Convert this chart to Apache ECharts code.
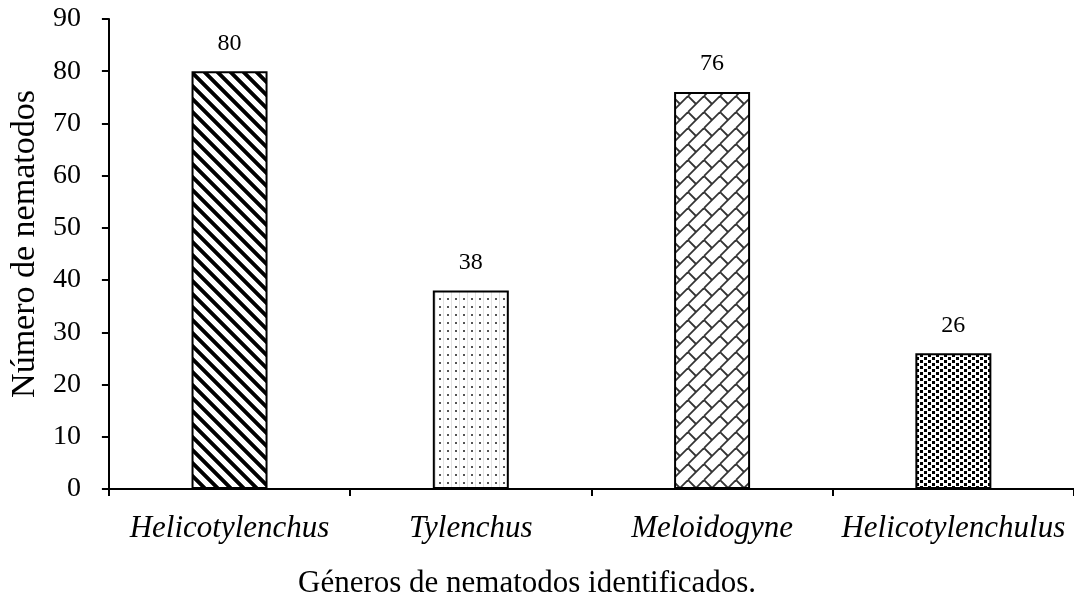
<!DOCTYPE html>
<html>
<head>
<meta charset="utf-8">
<script src="https://cdn.jsdelivr.net/npm/echarts@6/dist/echarts.min.js"></script>
<style>
  html, body { margin: 0; padding: 0; background: #fff; }
  #chart { width: 1074px; height: 604px; }
</style>
</head>
<body>
<div id="chart"></div>
<script>
const categories = ['Helicotylenchus', 'Tylenchus', 'Meloidogyne', 'Helicotylenchulus'];
const counts = [80, 38, 76, 26];
const yTicks = [0, 10, 20, 30, 40, 50, 60, 70, 80, 90];

const serif = '"Liberation Serif", "Times New Roman", serif';

// pattern tiles drawn on small canvases
const makeTile = (w, h, draw) => {
  const c = document.createElement('canvas');
  c.width = w;
  c.height = h;
  const ctx = c.getContext('2d');
  ctx.fillStyle = '#fff';
  ctx.fillRect(0, 0, w, h);
  draw(ctx, w, h);
  return { image: c, repeat: 'repeat' };
};

// diagonal "\" stripes, set pixel by pixel so the tile is seamless
const stripes = makeTile(26, 26, (ctx, w, h) => {
  for (let y = 0; y < h; y++) {
    for (let x = 0; x < w; x++) {
      const d = (((x - y) % 13) + 13) % 13;
      if (d < 6) {
        ctx.fillStyle = (d === 0 || d === 5) ? '#444' : '#000';
        ctx.fillRect(x, y, 1, 1);
      }
    }
  }
});

const dots = makeTile(16, 16, (ctx) => {
  ctx.fillStyle = '#e2e2e2';
  ctx.fillRect(3, 0, 1, 16);
  ctx.fillRect(11, 0, 1, 16);
  ctx.fillStyle = '#555';
  ctx.fillRect(7, 2, 2, 2);
  ctx.fillRect(15, 2, 2, 2);
  ctx.fillRect(7, 10, 2, 2);
  ctx.fillRect(15, 10, 2, 2);
  ctx.fillRect(-1, 2, 2, 2);
  ctx.fillRect(-1, 10, 2, 2);
});

const bricks = makeTile(16, 16, (ctx) => {
  ctx.strokeStyle = '#333';
  ctx.lineWidth = 1.8;
  for (let k = -1; k <= 1; k++) {
    ctx.beginPath();
    ctx.moveTo(k * 16, 16);
    ctx.lineTo(k * 16 + 16, 0);
    ctx.stroke();
  }
  ctx.beginPath();
  ctx.moveTo(0, 0);
  ctx.lineTo(8, 8);
  ctx.moveTo(16, 16);
  ctx.lineTo(24, 24);
  ctx.stroke();
});

const squares = makeTile(8, 6, (ctx) => {
  ctx.fillStyle = '#000';
  ctx.fillRect(0, 0, 3, 3);
  ctx.fillRect(4, 3, 3, 3);
});

const patterns = [stripes, dots, bricks, squares];

const chart = echarts.init(document.getElementById('chart'));
chart.setOption({
  animation: false,
  title: {
    text: 'Géneros de nematodos identificados.',
    left: 298,
    top: 568,
    padding: 0,
    textStyle: { fontFamily: serif, fontSize: 31, fontWeight: 'normal', color: '#000' }
  },
  grid: { left: 106, top: 19, width: 972, height: 470, containLabel: false },
  xAxis: {
    type: 'category',
    data: categories,
    axisLine: { lineStyle: { color: '#000', width: 2 } },
    axisTick: { show: true, length: 7, lineStyle: { color: '#000', width: 2 } },
    axisLabel: {
      margin: 24,
      fontFamily: serif,
      fontSize: 31,
      fontStyle: 'italic',
      color: '#000',
      interval: 0
    },
    splitLine: { show: false }
  },
  yAxis: {
    type: 'value',
    min: 0,
    max: 90,
    interval: 10,
    name: 'Número de nematodos',
    nameLocation: 'middle',
    nameGap: 64,
    nameTextStyle: { fontFamily: serif, fontSize: 34, color: '#000', padding: [0, 0, 0, 20] },
    axisLine: { show: true, lineStyle: { color: '#000', width: 2 } },
    axisTick: { show: true, length: 7, lineStyle: { color: '#000', width: 2 } },
    axisLabel: {
      margin: 28,
      fontFamily: serif,
      fontSize: 28,
      color: '#000',
      formatter: (v) => (yTicks.includes(v) ? String(v) : '')
    },
    splitLine: { show: false }
  },
  series: [{
    type: 'bar',
    barWidth: 76,
    data: counts.map((v, i) => ({
      value: v,
      itemStyle: { color: patterns[i] }
    })),
    itemStyle: { borderColor: '#000', borderWidth: 2 },
    label: {
      show: true,
      position: 'top',
      distance: 16,
      fontFamily: serif,
      fontSize: 24,
      color: '#000'
    }
  }]
});
</script>
</body>
</html>
